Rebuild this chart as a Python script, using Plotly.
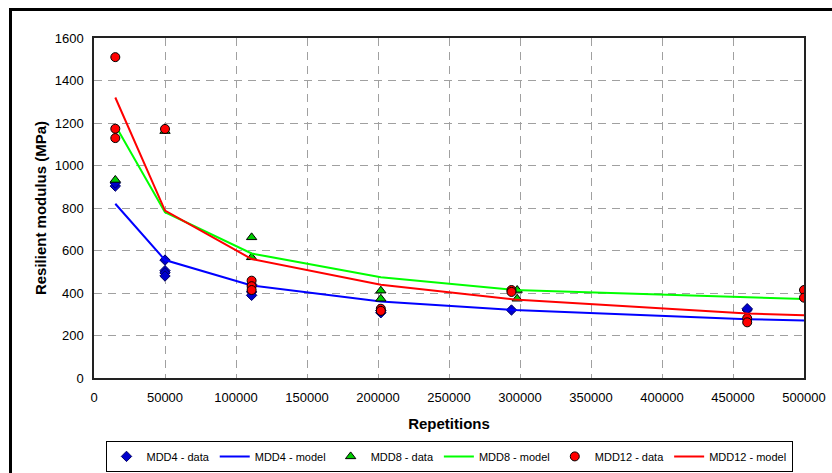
import plotly.graph_objects as go

# ---- data ----
mdd4_data_x = [15000, 15000, 50000, 50000, 50000, 50000, 111000, 111000, 111000, 202000, 202000, 294000, 460000, 460000]
mdd4_data_y = [903, 918, 555, 505, 495, 480, 440, 405, 389, 307, 318, 320, 320, 326]

mdd8_data_x = [15000, 50000, 111000, 111000, 202000, 202000, 298000, 298000]
mdd8_data_y = [932, 1162, 662, 568, 411, 373, 414, 373]

mdd12_data_x = [15000, 15000, 15000, 50000, 111000, 111000, 111000, 202000, 202000, 294000, 294000, 460000, 460000, 500000, 500000]
mdd12_data_y = [1510, 1173, 1129, 1172, 458, 432, 414, 326, 316, 414, 405, 281, 262, 414, 378]

model_x = [15000, 50000, 111000, 202000, 296000, 460000, 500000]
mdd4_model = [820, 555, 435, 360, 320, 277, 271]
mdd8_model = [1190, 780, 586, 474, 414, 378, 372]
mdd12_model = [1320, 788, 560, 439, 370, 304, 295]

x_ticks = [0, 50000, 100000, 150000, 200000, 250000, 300000, 350000, 400000, 450000, 500000]
y_ticks = [0, 200, 400, 600, 800, 1000, 1200, 1400, 1600]

FONT = "Liberation Sans, Arial, sans-serif"

fig = go.Figure()
fig.add_trace(go.Scatter(x=mdd4_data_x, y=mdd4_data_y, mode="markers", name="MDD4 - data",
                         marker=dict(symbol="diamond", size=8, color="#0000CC",
                                     line=dict(color="#000066", width=1))))
fig.add_trace(go.Scatter(x=model_x, y=mdd4_model, mode="lines", name="MDD4 - model",
                         line=dict(color="#0000FF", width=2)))
fig.add_trace(go.Scatter(x=mdd8_data_x, y=mdd8_data_y, mode="markers", name="MDD8 - data",
                         marker=dict(symbol="triangle-up", size=9, color="#00CC00",
                                     line=dict(color="#000000", width=1))))
fig.add_trace(go.Scatter(x=model_x, y=mdd8_model, mode="lines", name="MDD8 - model",
                         line=dict(color="#00FF00", width=2)))
fig.add_trace(go.Scatter(x=mdd12_data_x, y=mdd12_data_y, mode="markers", name="MDD12 - data",
                         marker=dict(symbol="circle", size=9, color="#FF0000",
                                     line=dict(color="#000000", width=1))))
fig.add_trace(go.Scatter(x=model_x, y=mdd12_model, mode="lines", name="MDD12 - model",
                         line=dict(color="#FF0000", width=2)))

grid = dict(showgrid=True, gridcolor="#A0A0A0", griddash="8px,6px", gridwidth=1)

fig.update_layout(
    width=832, height=473,
    margin=dict(l=94, r=28, t=38, b=95, autoexpand=False),
    paper_bgcolor="white", plot_bgcolor="white",
    font=dict(family=FONT, size=13, color="black"),
    showlegend=True,
    legend=dict(orientation="h", x=0.5, xanchor="center", y=-0.185, yanchor="top",
                bordercolor="black", borderwidth=1, font=dict(size=11, family=FONT),
                itemwidth=30, tracegroupgap=0),
    xaxis=dict(range=[0, 500000], tickvals=x_ticks, ticktext=[str(v) for v in x_ticks],
               title=dict(text="<b>Repetitions</b>", font=dict(size=15), standoff=14),
               showline=True, linecolor="#222222", linewidth=1.5, mirror=True,
               ticks="", ticklabelstandoff=7, zeroline=False, automargin=False, **grid),
    yaxis=dict(range=[0, 1600], tickvals=y_ticks, ticktext=[str(v) for v in y_ticks],
               title=dict(text="<b>Resilient modulus (MPa)</b>", font=dict(size=15), standoff=4),
               showline=True, linecolor="#222222", linewidth=1.5, mirror=True,
               ticks="", ticklabelstandoff=6, zeroline=False, automargin=False, **grid),
    shapes=[dict(type="rect", xref="paper", yref="paper",
                 x0=(10.5 - 94) / 710, x1=1.2, y0=-0.5, y1=(378 - 9.5) / 340,
                 line=dict(color="black", width=3), fillcolor="rgba(0,0,0,0)", layer="above")],
)

fig.write_html("out.html")
